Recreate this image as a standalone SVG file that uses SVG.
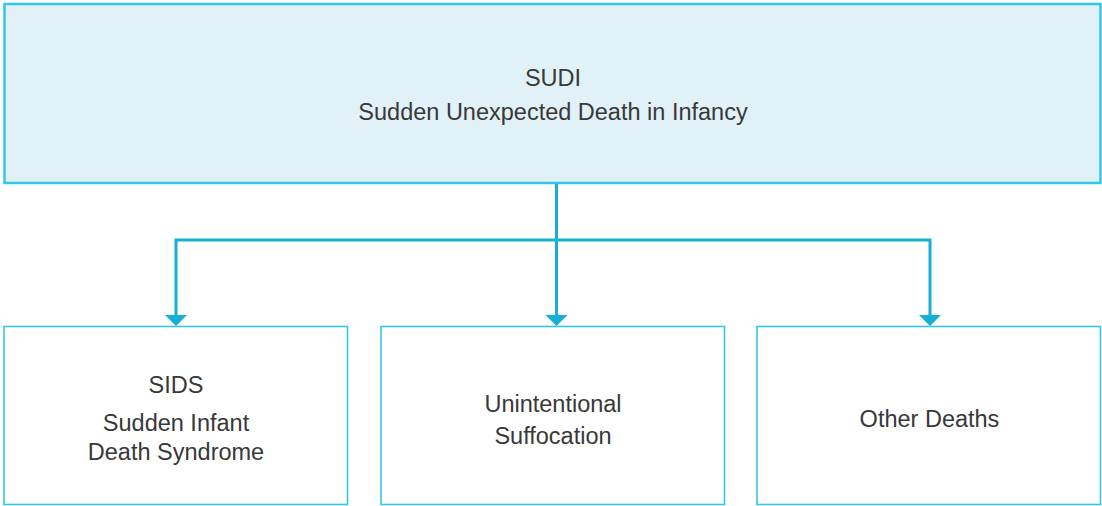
<svg xmlns="http://www.w3.org/2000/svg" width="1102" height="506" viewBox="0 0 1102 506">
<style>
.top{fill:#e1f1f8;stroke:#33c6e6;stroke-width:2.5}
.box{fill:#ffffff;stroke:#33c6e6;stroke-width:1.6}
.lbl{font-family:"Liberation Sans",Arial,sans-serif;font-size:23.5px;fill:#383838;text-anchor:middle}
.con{fill:none;stroke:#17aed8;stroke-width:3}
.head{fill:#17aed8}
</style>
<rect width="1102" height="506" fill="#ffffff"/>
<g id="sudi">
<rect class="top" x="4.5" y="4" width="1096" height="179"/>
<text class="lbl" x="553" y="86">SUDI</text>
<text class="lbl" x="553" y="120">Sudden Unexpected Death in Infancy</text>
</g>
<g id="sids">
<rect class="box" x="4" y="326.5" width="343.5" height="178"/>
<text class="lbl" x="176" y="393">SIDS</text>
<text class="lbl" x="176" y="431">Sudden Infant</text>
<text class="lbl" x="176" y="460">Death Syndrome</text>
</g>
<g id="suffocation">
<rect class="box" x="381" y="326.5" width="343.5" height="178"/>
<text class="lbl" x="553" y="412">Unintentional</text>
<text class="lbl" x="553" y="444">Suffocation</text>
</g>
<g id="other">
<rect class="box" x="757" y="326.5" width="343.5" height="178"/>
<text class="lbl" x="929.5" y="427">Other Deaths</text>
</g>
<g id="connectors">
<path class="con" d="M556.5,184 V316"/>
<path class="con" d="M176,316 V240 H930 V316"/>
<polygon class="head" points="165,315 187,315 176,326"/>
<polygon class="head" points="545.5,315 567.5,315 556.5,326"/>
<polygon class="head" points="919,315 941,315 930,326"/>
</g>
</svg>
